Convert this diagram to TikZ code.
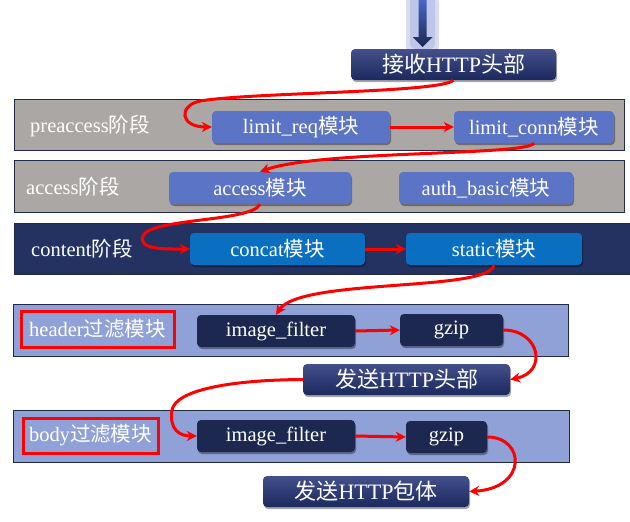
\documentclass[tikz,border=0pt]{standalone}
\usepackage{fontspec}
\setmainfont{Liberation Serif}
\newfontfamily\cjk{Noto Sans CJK SC}
\usetikzlibrary{arrows.meta,shadows}
\newcommand\zhtxt[1]{{\cjk #1}}
\definecolor{grayband}{HTML}{ABA7A5}
\definecolor{bandline}{HTML}{1F2A4A}
\definecolor{modlight}{HTML}{5B74C6}
\definecolor{contentband}{HTML}{243262}
\definecolor{modblue}{HTML}{0A6FC0}
\definecolor{filterband}{HTML}{8FA1D6}
\definecolor{moddark}{HTML}{1D2850}
\definecolor{navytop}{HTML}{43508A}
\definecolor{navybot}{HTML}{1B295E}
\definecolor{titleblue}{HTML}{1F2D5C}
\definecolor{glowblue}{HTML}{8E9CD8}
\definecolor{arrtop}{HTML}{4B66C4}
\definecolor{arrbot}{HTML}{1C2850}
\tikzset{
  sh/.style={drop shadow={shadow xshift=1pt,shadow yshift=-2pt,opacity=0.35,fill=black}},
  modbox/.style={rounded corners=4pt, text=white, inner sep=0pt, minimum height=32pt,
    font=\fontsize{20.5}{22}\selectfont, sh},
  lightmod/.style={modbox, fill=modlight},
  bluemod/.style={modbox, fill=modblue},
  darkmod/.style={modbox, fill=moddark},
  bigbox/.style={rounded corners=4pt, text=white, inner sep=0pt, minimum height=31pt,
    font=\fontsize{22}{24}\selectfont, top color=navytop, bottom color=navybot, sh},
  band/.style={draw=bandline, line width=0.8pt},
  stagelabel/.style={anchor=west, inner sep=0pt, text=white, font=\fontsize{20.5}{22}\selectfont},
  redframe/.style={draw=red, line width=3pt, inner sep=0pt, text=white, font=\fontsize{20.5}{22}\selectfont},
  flow/.style={draw=red, line width=3pt, -{Stealth[length=10pt,width=10pt]}},
}
\begin{document}
\begin{tikzpicture}[x=1pt,y=-1pt]
\useasboundingbox (0,0) rectangle (630,522);
% clipped title fragment
\begin{scope}
\clip (0,0) rectangle (630,522);
\node[anchor=base west, inner sep=0pt, text=titleblue, font=\cjk\bfseries\fontsize{35}{35}\selectfont] (title) at (-6,-5.5) {过滤模块的位置};
\end{scope}
% top arrow with glow
\fill[glowblue, opacity=0.35, rounded corners=7pt] (406,-5) rectangle (439,53);
\fill[glowblue, opacity=0.35, rounded corners=5pt] (410,-5) rectangle (435,49);
\shade[top color=arrtop, bottom color=arrbot] (418.5,0) -- (426.5,0) -- (426.5,37) -- (432.5,37) -- (422.5,47) -- (412.5,37) -- (418.5,37) -- cycle;
% bands
\path[band, fill=grayband] (14,99) rectangle (624,150);
\path[band, fill=grayband] (14,160) rectangle (624,212);
\path[band, fill=contentband] (14,223) rectangle (634,274);
\path[band, fill=filterband] (13,304) rectangle (568,356);
\path[band, fill=filterband] (13,410) rectangle (569,462);
% stage labels
\node[stagelabel] (lpre) at (30,126) {preaccess\zhtxt{阶段}};
\node[stagelabel] (lacc) at (26,187) {access\zhtxt{阶段}};
\node[stagelabel] (lcon) at (31,249) {content\zhtxt{阶段}};
\node[redframe, minimum width=153pt, minimum height=36pt] (lhead) at (97.5,329) {header\zhtxt{过滤模块}};
\node[redframe, minimum width=135pt, minimum height=35pt] (lbody) at (90.5,435.5) {body\zhtxt{过滤模块}};
% boxes
\node[bigbox, minimum width=205pt] (recv) at (453.5,64.5) {\zhtxt{接收}HTTP\zhtxt{头部}};
\node[lightmod, minimum width=178pt] (lreq) at (301,127) {limit\_req\zhtxt{模块}};
\node[lightmod, minimum width=160pt] (lconn) at (534,127) {limit\_conn\zhtxt{模块}};
\node[lightmod, minimum width=182pt] (acc) at (260,188) {access\zhtxt{模块}};
\node[lightmod, minimum width=174pt] (auth) at (486,188) {auth\_basic\zhtxt{模块}};
\node[bluemod, minimum width=175pt] (concat) at (277.5,249) {concat\zhtxt{模块}};
\node[bluemod, minimum width=176pt] (static) at (494,249) {static\zhtxt{模块}};
\node[darkmod, minimum width=158pt] (hif) at (276,331) {image\_filter};
\node[darkmod, minimum width=103pt] (hgz) at (451.5,330) {gzip};
\node[bigbox, minimum width=207pt] (sendh) at (406.5,379.5) {\zhtxt{发送}HTTP\zhtxt{头部}};
\node[darkmod, minimum width=158pt] (bif) at (276,436) {image\_filter};
\node[darkmod, minimum width=81pt] (bgz) at (446.5,437) {gzip};
\node[bigbox, minimum width=206pt] (sendb) at (366,491.5) {\zhtxt{发送}HTTP\zhtxt{包体}};
% flow
\draw[flow] (recv.south) .. controls (440,93) and (255,92) .. (200,101) .. controls (178,106) and (180,127) .. (lreq.west);
\draw[flow] (lreq.east) -- (lconn.west);
\draw[flow] (lconn.south) .. controls (526,156) and (320,150) .. (acc.north);
\draw[flow] (acc.south) .. controls (252,222) and (150,218) .. (143,236) .. controls (138,250) and (165,249) .. (concat.west);
\draw[flow] (concat.east) -- (static.west);
\draw[flow] (static.south) .. controls (488,292) and (300,278) .. (hif.north);
\draw[flow] (hif.east) -- (hgz.west);
\draw[flow] (hgz.east) .. controls (540,330) and (548,372) .. (sendh.east);
\draw[flow] (sendh.west) .. controls (230,380) and (176,390) .. (172,410) .. controls (169,430) and (180,436) .. (bif.west);
\draw[flow] (bif.east) -- (bgz.west);
\draw[flow] (bgz.east) .. controls (525,437) and (528,488) .. (sendb.east);
\end{tikzpicture}
\end{document}
